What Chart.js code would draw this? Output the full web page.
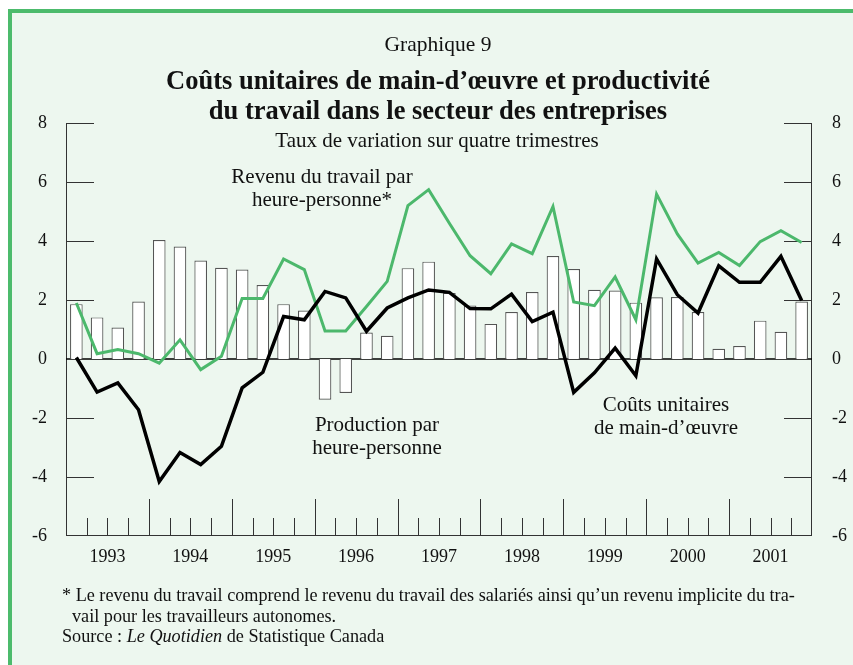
<!DOCTYPE html>
<html lang="fr">
<head>
<meta charset="utf-8">
<script src="https://cdn.jsdelivr.net/npm/chart.js@4.4.0/dist/chart.umd.min.js"></script>
<style>
  html, body { margin: 0; padding: 0; background: #fff; }
  body { width: 853px; height: 665px; overflow: hidden; position: relative; font-family: "Liberation Serif", "DejaVu Serif", serif; color: #111; }
  #frame { position: absolute; left: 8px; top: 9px; width: 900px; height: 700px; border-left: 4px solid #4cbb6c; border-top: 4px solid #4cbb6c; background: #edf7ef; }
  #wrap { position: absolute; left: 0; top: 0; width: 853px; height: 665px; }
  .t { position: absolute; white-space: nowrap; text-align: center; transform: translate(-50%, -50%); }
  #num { left: 438px; top: 44px; font-size: 21.5px; }
  #title { left: 438px; top: 95px; font-size: 26.5px; line-height: 30px; font-weight: bold; }
  #sub { left: 437px; top: 140px; font-size: 21px; }
  .lab { font-size: 21px; line-height: 23px; }
  #notes { position: absolute; left: 62px; top: 585px; font-size: 18.2px; line-height: 20.5px; }
  #notes .ind { padding-left: 10px; }
</style>
</head>
<body>
<div id="frame"></div>
<div id="wrap"><canvas id="chart" width="853" height="665"></canvas></div>
<div class="t" id="num">Graphique 9</div>
<div class="t" id="title">Coûts unitaires de main-d’œuvre et productivité<br>du travail dans le secteur des entreprises</div>
<div class="t" id="sub">Taux de variation sur quatre trimestres</div>
<div class="t lab" style="left:322px; top:188px">Revenu du travail par<br>heure-personne*</div>
<div class="t lab" style="left:377px; top:436px">Production par<br>heure-personne</div>
<div class="t lab" style="left:666px; top:416px">Coûts unitaires<br>de main-d’œuvre</div>
<div id="notes">* Le revenu du travail comprend le revenu du travail des salariés ainsi qu’un revenu implicite du tra-<br><span class="ind">vail pour les travailleurs autonomes.</span><br>Source : <i>Le Quotidien</i> de Statistique Canada</div>
<script>
// --- DONNÉES ---
const years = ['1993', '1994', '1995', '1996', '1997', '1998', '1999', '2000', '2001'];
const quarters = [];
years.forEach(y => { for (let q = 1; q <= 4; q++) quarters.push(y + 'T' + q); });

// Production par heure-personne (barres)
const production = [
  1.86, 1.41, 1.07, 1.95, 4.03, 3.81, 3.34, 3.09,
  3.03, 2.51, 1.86, 1.64, -1.38, -1.15, 0.90, 0.79,
  3.08, 3.30, 2.24, 1.81, 1.19, 1.59, 2.27, 3.49,
  3.05, 2.35, 2.32, 1.91, 2.09, 2.10, 1.59, 0.35,
  0.44, 1.30, 0.92, 1.95
];
// Revenu du travail par heure-personne (ligne verte)
const revenu = [
  1.90, 0.18, 0.32, 0.18, -0.14, 0.65, -0.36, 0.09,
  2.05, 2.05, 3.39, 3.03, 0.95, 0.95, 1.78, 2.63,
  5.20, 5.74, 4.60, 3.50, 2.89, 3.90, 3.57, 5.17,
  1.93, 1.81, 2.78, 1.33, 5.59, 4.24, 3.25, 3.61,
  3.17, 3.98, 4.35, 3.95
];
// Coûts unitaires de main-d'œuvre (ligne noire)
const couts = [
  0.05, -1.12, -0.81, -1.72, -4.15, -3.17, -3.58, -2.96,
  -0.98, -0.45, 1.44, 1.33, 2.29, 2.07, 0.94, 1.73,
  2.07, 2.34, 2.26, 1.71, 1.70, 2.20, 1.27, 1.59,
  -1.13, -0.47, 0.37, -0.57, 3.39, 2.18, 1.56, 3.16,
  2.60, 2.60, 3.48, 1.98
];
const yTicks = [-6, -4, -2, 0, 2, 4, 6, 8];

const ink = '#333';
const green = '#4cb86c';

// --- AXES ET TRAITS ---
const axisMarks = {
  id: 'axisMarks',
  beforeDatasetsDraw(chart) {
    const { ctx, chartArea: a, scales } = chart;
    const y = scales.y, xq = scales.xq;
    ctx.save();
    ctx.strokeStyle = ink;
    ctx.lineWidth = 1;
    ctx.beginPath();
    // cadres gauche, droite et bas
    ctx.moveTo(a.left + 0.5, a.top); ctx.lineTo(a.left + 0.5, a.bottom);
    ctx.moveTo(a.right - 0.5, a.top); ctx.lineTo(a.right - 0.5, a.bottom);
    ctx.moveTo(a.left, a.bottom - 0.5); ctx.lineTo(a.right, a.bottom - 0.5);
    // petits traits vers l'intérieur
    yTicks.forEach(v => {
      if (v === 0 || v === -6) return;
      const py = Math.round(y.getPixelForValue(v)) + 0.5;
      ctx.moveTo(a.left, py); ctx.lineTo(a.left + 28, py);
      ctx.moveTo(a.right - 28, py); ctx.lineTo(a.right, py);
    });
    // trimestres et années
    for (let i = 1; i < quarters.length; i++) {
      const px = Math.round(xq.getPixelForValue(i)) + 0.5;
      const len = i % 4 === 0 ? 37 : 18;
      ctx.moveTo(px, a.bottom); ctx.lineTo(px, a.bottom - len);
    }
    ctx.stroke();
    // ligne zéro
    ctx.strokeStyle = '#000';
    ctx.lineWidth = 1.5;
    ctx.beginPath();
    const p0 = y.getPixelForValue(0);
    ctx.moveTo(a.left, p0); ctx.lineTo(a.right, p0);
    ctx.stroke();
    ctx.restore();
  }
};

const tickFont = { family: '"Liberation Serif", serif', size: 18 };

new Chart(document.getElementById('chart'), {
  data: {
    labels: quarters,
    datasets: [
      {
        type: 'line', label: 'Coûts unitaires de main-d’œuvre', data: couts,
        borderColor: '#000', borderWidth: 3.5, pointRadius: 0, tension: 0, order: 1
      },
      {
        type: 'line', label: 'Revenu du travail par heure-personne', data: revenu,
        borderColor: green, borderWidth: 3, pointRadius: 0, tension: 0, order: 2
      },
      {
        type: 'bar', label: 'Production par heure-personne', data: production,
        backgroundColor: '#fff', borderColor: '#555', borderWidth: 1.2,
        categoryPercentage: 1, barPercentage: 0.61, order: 3
      }
    ]
  },
  options: {
    responsive: false,
    animation: false,
    layout: { padding: { top: 123, bottom: 92, left: 0, right: 0 } },
    plugins: { legend: { display: false }, tooltip: { enabled: false } },
    scales: {
      x: { type: 'category', offset: true, display: false },
      xq: {
        type: 'linear', position: 'bottom', min: 0, max: quarters.length,
        grid: { display: false }, border: { display: false },
        afterBuildTicks: s => { s.ticks = years.map((_, i) => ({ value: 2 + 4 * i })); },
        afterFit: s => { s.height = 37; },
        ticks: {
          color: '#111', font: tickFont, padding: 2, maxRotation: 0, autoSkip: false,
          callback: (v, i) => years[i]
        }
      },
      y: {
        position: 'left', min: -6, max: 8,
        grid: { display: false }, border: { display: false },
        afterBuildTicks: s => { s.ticks = yTicks.map(v => ({ value: v })); },
        afterFit: s => { s.width = 66; },
        ticks: { color: '#111', font: tickFont, padding: 11 }
      },
      y2: {
        position: 'right', min: -6, max: 8,
        grid: { display: false }, border: { display: false },
        afterBuildTicks: s => { s.ticks = yTicks.map(v => ({ value: v })); },
        afterFit: s => { s.width = 41; },
        ticks: { color: '#111', font: tickFont, padding: 12 }
      }
    }
  },
  plugins: [axisMarks]
});
</script>
</body>
</html>
